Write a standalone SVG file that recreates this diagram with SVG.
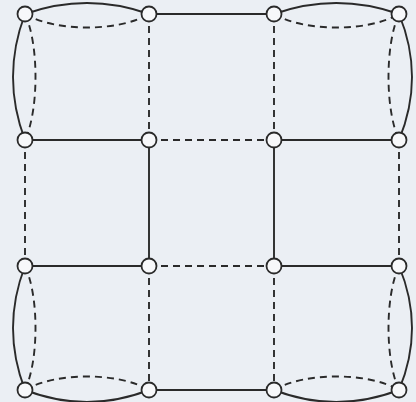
<svg xmlns="http://www.w3.org/2000/svg" width="416" height="402" viewBox="0 0 416 402">
<style>
.s{fill:none;stroke:#2a2a2a;stroke-width:1.9}
.d{fill:none;stroke:#2a2a2a;stroke-width:1.9;stroke-dasharray:7 5}
.n{fill:#f7f8fa;stroke:#2a2a2a;stroke-width:1.8}
</style>
<rect width="416" height="402" fill="#ebeff4"/>
<g id="connectors">
<path class="s" d="M25,14 Q87,-8 149,14"/>
<path class="d" d="M25,14 C55,32 119,32 149,14"/>
<path class="s" d="M149,14 L274,14"/>
<path class="s" d="M274,14 Q336,-8 399,14"/>
<path class="d" d="M274,14 C304,32 369,32 399,14"/>
<path class="s" d="M25,14 Q1,77 25,140"/>
<path class="d" d="M25,14 C39,44 39,110 25,140"/>
<path class="d" d="M149,14 L149,140"/>
<path class="d" d="M274,14 L274,140"/>
<path class="s" d="M399,14 Q425,77 399,140"/>
<path class="d" d="M399,14 C385,44 385,110 399,140"/>
<path class="s" d="M25,140 L149,140"/>
<path class="d" d="M149,140 L274,140"/>
<path class="s" d="M274,140 L399,140"/>
<path class="d" d="M25,140 L25,266"/>
<path class="s" d="M149,140 L149,266"/>
<path class="s" d="M274,140 L274,266"/>
<path class="d" d="M399,140 L399,266"/>
<path class="s" d="M25,266 L149,266"/>
<path class="d" d="M149,266 L274,266"/>
<path class="s" d="M274,266 L399,266"/>
<path class="s" d="M25,266 Q1,328 25,390"/>
<path class="d" d="M25,266 C39,296 39,360 25,390"/>
<path class="d" d="M149,266 L149,390"/>
<path class="d" d="M274,266 L274,390"/>
<path class="s" d="M399,266 Q425,328 399,390"/>
<path class="d" d="M399,266 C385,296 385,360 399,390"/>
<path class="s" d="M25,390 Q87,414 149,390"/>
<path class="d" d="M25,390 C55,372 119,372 149,390"/>
<path class="s" d="M149,390 L274,390"/>
<path class="s" d="M274,390 Q336,414 399,390"/>
<path class="d" d="M274,390 C304,372 369,372 399,390"/>
</g>
<g id="n00"><circle class="n" cx="25" cy="14" r="7.5"/></g>
<g id="n01"><circle class="n" cx="149" cy="14" r="7.5"/></g>
<g id="n02"><circle class="n" cx="274" cy="14" r="7.5"/></g>
<g id="n03"><circle class="n" cx="399" cy="14" r="7.5"/></g>
<g id="n10"><circle class="n" cx="25" cy="140" r="7.5"/></g>
<g id="n11"><circle class="n" cx="149" cy="140" r="7.5"/></g>
<g id="n12"><circle class="n" cx="274" cy="140" r="7.5"/></g>
<g id="n13"><circle class="n" cx="399" cy="140" r="7.5"/></g>
<g id="n20"><circle class="n" cx="25" cy="266" r="7.5"/></g>
<g id="n21"><circle class="n" cx="149" cy="266" r="7.5"/></g>
<g id="n22"><circle class="n" cx="274" cy="266" r="7.5"/></g>
<g id="n23"><circle class="n" cx="399" cy="266" r="7.5"/></g>
<g id="n30"><circle class="n" cx="25" cy="390" r="7.5"/></g>
<g id="n31"><circle class="n" cx="149" cy="390" r="7.5"/></g>
<g id="n32"><circle class="n" cx="274" cy="390" r="7.5"/></g>
<g id="n33"><circle class="n" cx="399" cy="390" r="7.5"/></g>
</svg>
